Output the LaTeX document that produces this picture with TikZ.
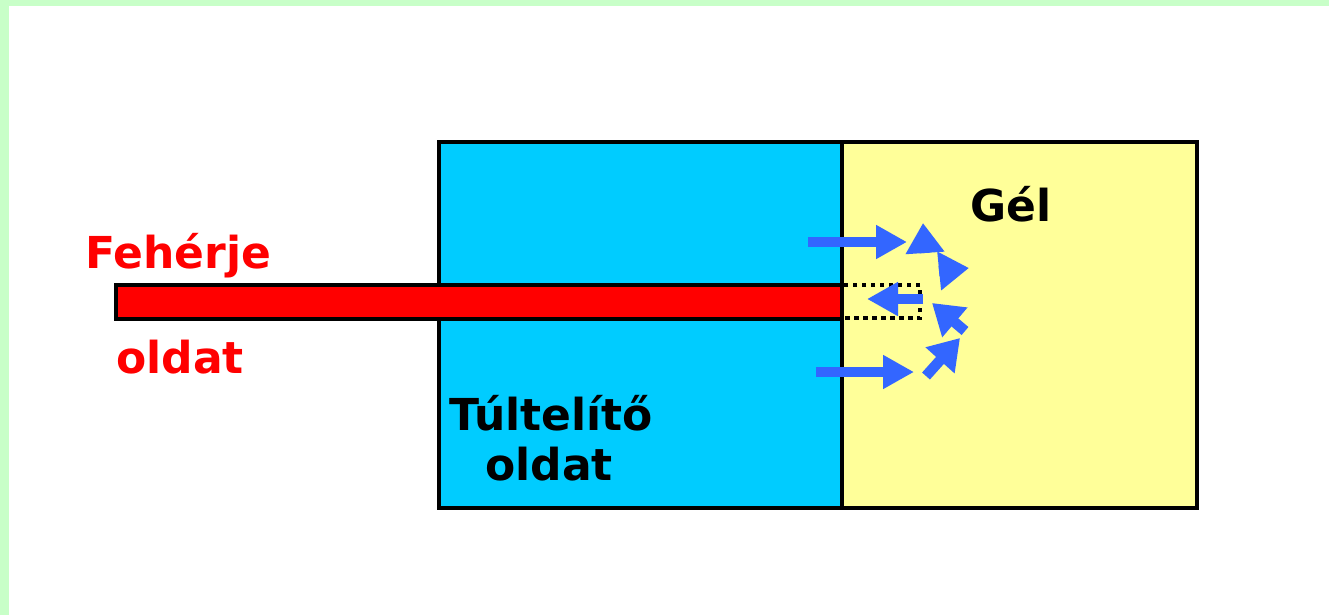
\documentclass[tikz,border=0pt]{standalone}
\usepackage{fontspec}
\setmainfont{DejaVu Sans}
\usetikzlibrary{arrows.meta}
\definecolor{bordergreen}{HTML}{C8FFC8}
\definecolor{solblue}{HTML}{00CCFF}
\definecolor{gelyellow}{HTML}{FFFF99}
\definecolor{arrowblue}{HTML}{3366FF}
\tikzset{
  lbl/.style={inner sep=0pt, anchor=base west, font=\fontsize{44}{50}\selectfont\bfseries},
  flow/.style={draw=arrowblue, line width=10.5pt, -{Triangle[length=31pt,width=32pt]}, arrowblue},
  shortflow/.style={draw=arrowblue, line width=10.5pt, -{Triangle[length=30pt,width=37pt]}, arrowblue},
}
\begin{document}
\begin{tikzpicture}[x=1pt,y=-1pt]
\useasboundingbox (0,0) rectangle (1329,615);
\fill[white] (0,0) rectangle (1329,615);
\fill[bordergreen] (0,0) rectangle (1329,6);
\fill[bordergreen] (0,0) rectangle (9,615);
% boxes
\path[fill=solblue, draw=black, line width=3.5pt] (439,142) rectangle (842,508);
\path[fill=gelyellow, draw=black, line width=3.5pt] (842,142) rectangle (1197,508);
\path[fill=red, draw=black, line width=3.5pt] (116,285) rectangle (842,319);
\draw[black, line width=3.5pt, dash pattern=on 4.5pt off 4.5pt] (842,285) rectangle (920,318);
% coordinates for arrows
\coordinate (a1s) at (808,242); \coordinate (a1e) at (907,242);
\coordinate (a2s) at (925,253); \coordinate (a2e) at (923,223);
\coordinate (a3s) at (939,271); \coordinate (a3e) at (969,268);
\coordinate (a4s) at (923,299); \coordinate (a4e) at (867,299);
\coordinate (a5s) at (965,331); \coordinate (a5e) at (932,303);
\coordinate (a6s) at (816,372); \coordinate (a6e) at (914,372);
\coordinate (a7s) at (926,376); \coordinate (a7e) at (960,338);
\draw[flow] (a1s) -- (a1e);
\draw[shortflow] (a2s) -- (a2e);
\draw[shortflow] (a3s) -- (a3e);
\draw[flow] (a4s) -- (a4e);
\draw[shortflow] (a5s) -- (a5e);
\draw[flow] (a6s) -- (a6e);
\draw[shortflow] (a7s) -- (a7e);
% labels
\node[lbl, text=red] (feh) at (85,268) {Fehérje};
\node[lbl, text=red] (old1) at (116,373) {oldat};
\node[lbl] (gel) at (970,221) {Gél};
\node[lbl] (tul) at (449,430) {Túltelítő};
\node[lbl] (old2) at (485,480) {oldat};
\end{tikzpicture}
\end{document}
